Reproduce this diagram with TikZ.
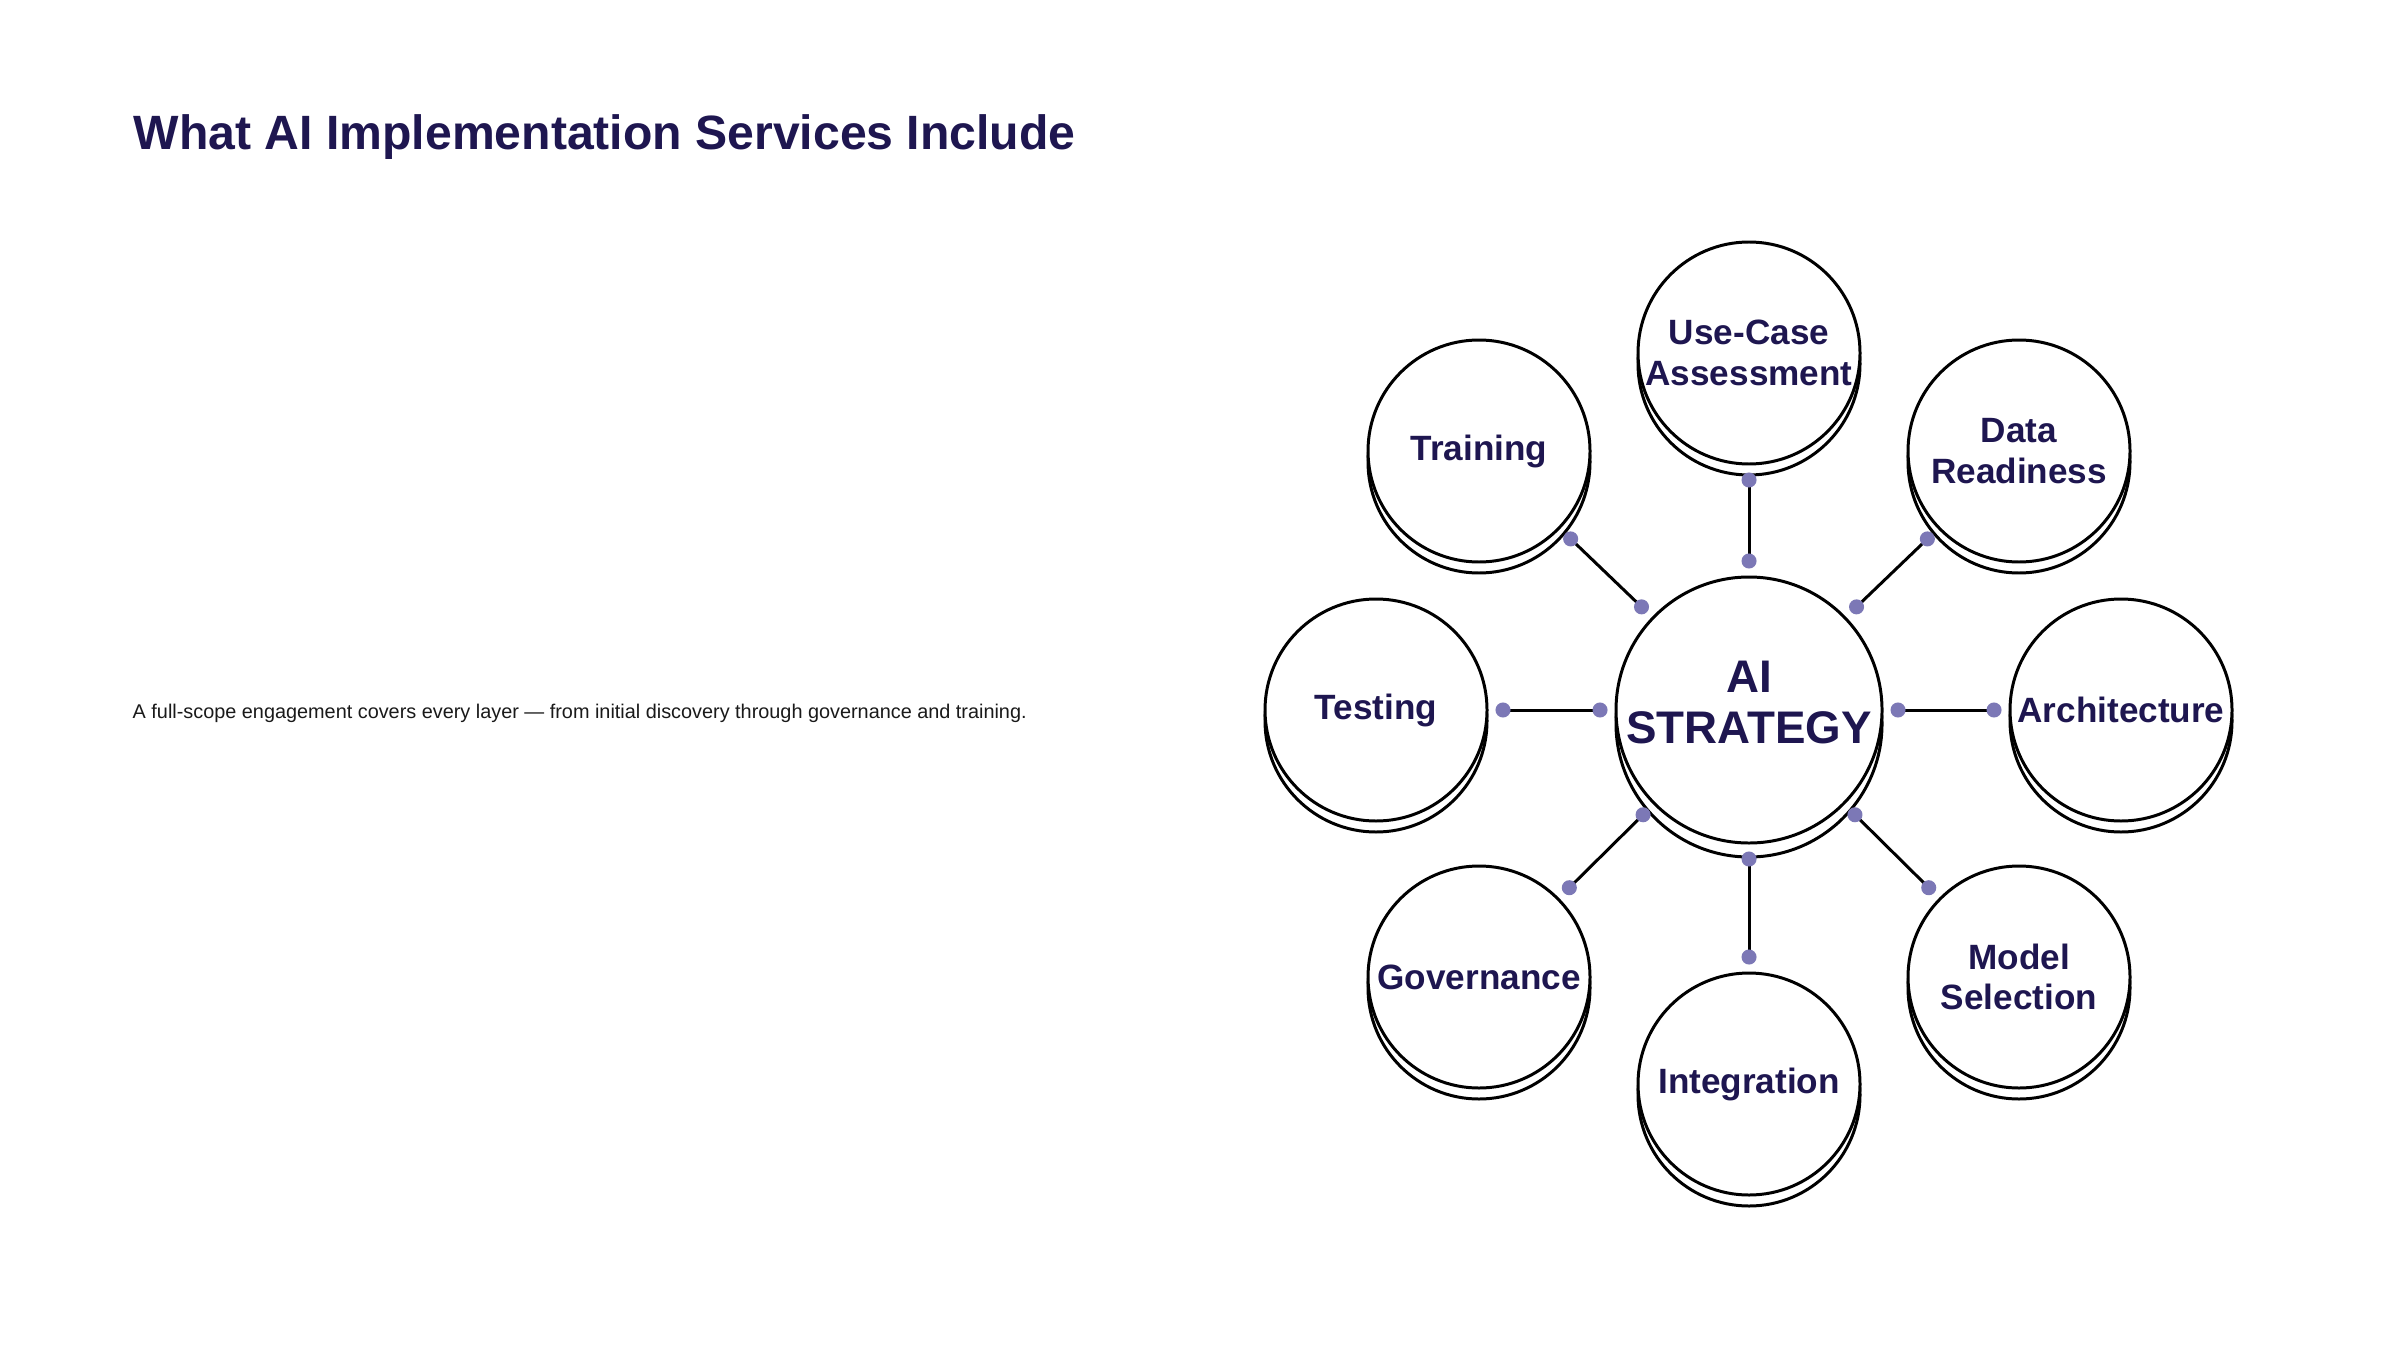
\documentclass[tikz,border=0pt]{standalone}
\usepackage{fontspec}
\setmainfont{Liberation Sans}
\usepackage{xcolor}
\usepackage{tikz}
\usetikzlibrary{arrows.meta,positioning,shadows}
\definecolor{navy}{HTML}{1E1650}
\definecolor{dotc}{HTML}{7C78B6}
\definecolor{ink}{HTML}{1A1A1A}
\tikzset{
  hub/.style={circle, draw, line width=0.85pt, fill=white, align=center,
              minimum size=26.6mm, inner sep=0pt, text=navy, text depth=4.5pt,
              font=\bfseries\fontsize{13}{14.5}\selectfont,
              copy shadow={shadow xshift=0pt, shadow yshift=-1.4mm}},
  svc/.style={circle, draw, line width=0.85pt, fill=white, align=center,
              minimum size=22.2mm, inner sep=0pt, text=navy,
              font=\bfseries\fontsize{10}{11.5}\selectfont,
              copy shadow={shadow xshift=0pt, shadow yshift=-1.1mm}},
  link/.style={{Circle[length=1.5mm, color=dotc, fill=dotc]}-{Circle[length=1.5mm, color=dotc, fill=dotc]},
               line width=0.85pt, shorten <=0.7mm, shorten >=0.7mm},
  ttl/.style={anchor=base west, inner sep=0pt, text=navy,
              font=\bfseries\fontsize{13.7}{16}\selectfont},
  sub/.style={anchor=base west, inner sep=0pt, text=ink,
              font=\fontsize{5.65}{6.5}\selectfont},
}

\begin{document}
\begin{tikzpicture}[on grid]
\fill[white] (0,0) rectangle (24,13.5);
\useasboundingbox (0,0) rectangle (24,13.5);
\node[ttl] (title) at (1.33,12.0) {What AI Implementation Services Include};
\node[sub] (lead) at (1.32,6.32) {A full-scope engagement covers every layer --- from initial discovery through governance and training.};
% hub and services
\node[hub] (ai) at (17.49,6.40) {AI\\STRATEGY};
\node[svc, above=3.57cm of ai] (usecase) {Use-Case\\Assessment};
\node[svc, above right=2.59cm and 2.70cm of ai] (data) {Data\\Readiness};
\node[svc, right=3.72cm of ai] (arch) {Architecture};
\node[svc, below right=2.67cm and 2.70cm of ai] (model) {Model\\Selection};
\node[svc, below=3.74cm of ai] (integ) {Integration};
\node[svc, below left=2.67cm and 2.70cm of ai] (gov) {Governance};
\node[svc, left=3.73cm of ai] (test) {Testing};
\node[svc, above left=2.59cm and 2.70cm of ai] (train) {Training};
\foreach \s in {usecase,data,arch,model,integ,gov,test,train}
  \draw[link] (ai) -- (\s);
\end{tikzpicture}
\end{document}
